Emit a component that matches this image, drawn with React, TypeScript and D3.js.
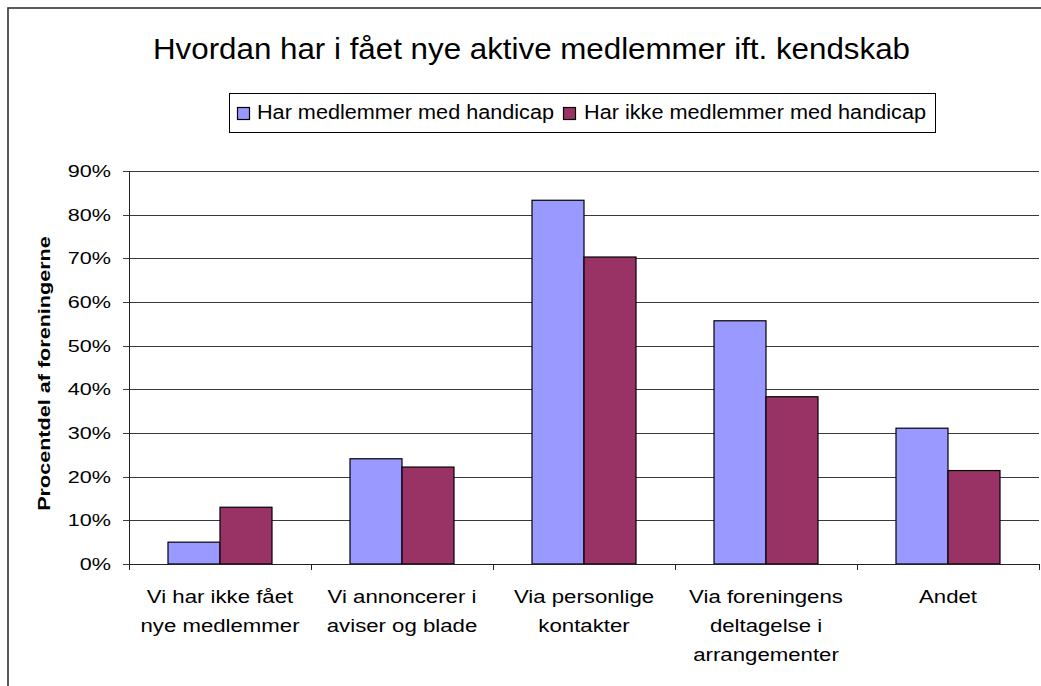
import React from "react";
import * as d3 from "d3";

const categories: string[][] = [
  ["Vi har ikke fået", "nye medlemmer"],
  ["Vi annoncerer i", "aviser og blade"],
  ["Via personlige", "kontakter"],
  ["Via foreningens", "deltagelse i", "arrangementer"],
  ["Andet"],
];
const seriesNames = ["Har medlemmer med handicap", "Har ikke medlemmer med handicap"];
const withHandicap = [0.05, 0.241, 0.833, 0.557, 0.311];
const withoutHandicap = [0.13, 0.222, 0.703, 0.383, 0.214];
const yTicks = [0, 0.1, 0.2, 0.3, 0.4, 0.5, 0.6, 0.7, 0.8, 0.9];
const colors = ["#9999FF", "#993366"];
const title = "Hvordan har i fået nye aktive medlemmer ift. kendskab";
const yTitle = "Procentdel af foreningerne";

const font = "'Liberation Sans', Arial, sans-serif";
const SX = 1.2;

export default function App() {
  const W = 1041, H = 686;
  const left = 129, right = 1039, top = 171, bottom = 564;
  const idx = categories.map((_, i) => String(i));
  const x0 = d3.scaleBand().domain(idx).range([left, right]).paddingInner(0).paddingOuter(0);
  const bw = x0.bandwidth();
  const gap = bw * 1.5 / 3.5;
  const x1 = d3.scaleBand().domain(["0", "1"]).range([gap / 2, bw - gap / 2]);
  const y = d3.scaleLinear().domain([0, 0.9]).range([bottom, top]);
  const series = [withHandicap, withoutHandicap];
  const fmt = d3.format(".0%");
  const legendX = [237, 563];
  const legendTextX = [257, 584];
  const legendTextW = [297, 342];

  return (
    <svg width={W} height={H} style={{ position: "absolute", left: 0, top: 0, background: "#fff" }}>
      <rect x={8} y={8} width={1100} height={700} fill="#fff" stroke="#333" strokeWidth={1.6} />
      <text x={531.5} y={59} textAnchor="middle" fontFamily={font} fontSize={29} fill="#000"
        textLength={757} lengthAdjust="spacingAndGlyphs">{title}</text>
      {/* legend */}
      <rect x={229.5} y={93.5} width={706} height={39} fill="#fff" stroke="#000" strokeWidth={1} />
      {seriesNames.map((n, i) => (
        <g key={n}>
          <rect x={legendX[i] + 0.5} y={107.5} width={12} height={12} fill={colors[i]} stroke="#000" strokeWidth={1.2} />
          <text x={legendTextX[i]} y={119} fontFamily={font} fontSize={19.5} fill="#000"
            textLength={legendTextW[i]} lengthAdjust="spacingAndGlyphs">{n}</text>
        </g>
      ))}
      {/* gridlines and y axis */}
      {yTicks.map((t) => (
        <g key={t}>
          <line x1={left - 6} x2={t === 0 ? left : right} y1={Math.round(y(t)) + 0.5} y2={Math.round(y(t)) + 0.5} stroke="#3a3a3a" strokeWidth={1} />
          <text transform={`translate(111, ${y(t) + 6}) scale(1.27, 1)`} textAnchor="end" fontFamily={font} fontSize={17} fill="#000">{fmt(t)}</text>
        </g>
      ))}
      {/* bars */}
      {series.map((vals, s) =>
        vals.map((v, i) => (
          <rect
            key={`${s}-${i}`}
            x={(x0(String(i)) as number) + (x1(String(s)) as number)}
            y={y(v)}
            width={x1.bandwidth()}
            height={bottom - y(v)}
            fill={colors[s]}
            stroke="#000"
            strokeWidth={1.2}
          />
        ))
      )}
      <line x1={left + 0.5} x2={left + 0.5} y1={top} y2={bottom + 6} stroke="#222" strokeWidth={1} />
      <line x1={left} x2={right} y1={bottom + 0.5} y2={bottom + 0.5} stroke="#222" strokeWidth={1} />
      {idx.concat([String(categories.length)]).map((k, i) => {
        const xx = Math.round(left + i * bw) + 0.5;
        return <line key={k} x1={xx} x2={xx} y1={bottom} y2={bottom + 6} stroke="#222" strokeWidth={1} />;
      })}
      {categories.map((lines, i) => (
        <text key={i} transform={`translate(${(x0(String(i)) as number) + bw / 2}, 0) scale(${SX}, 1)`}
          textAnchor="middle" fontFamily={font} fontSize={18.5} fill="#000">
          {lines.map((l, j) => (
            <tspan key={j} x={0} y={603 + j * 29}>{l}</tspan>
          ))}
        </text>
      ))}
      <text
        transform={`translate(49.5, ${373.5}) rotate(-90) scale(1.27, 1)`}
        textAnchor="middle"
        fontFamily={font}
        fontSize={17}
        fontWeight="bold"
        fill="#000"
      >
        {yTitle}
      </text>
    </svg>
  );
}
